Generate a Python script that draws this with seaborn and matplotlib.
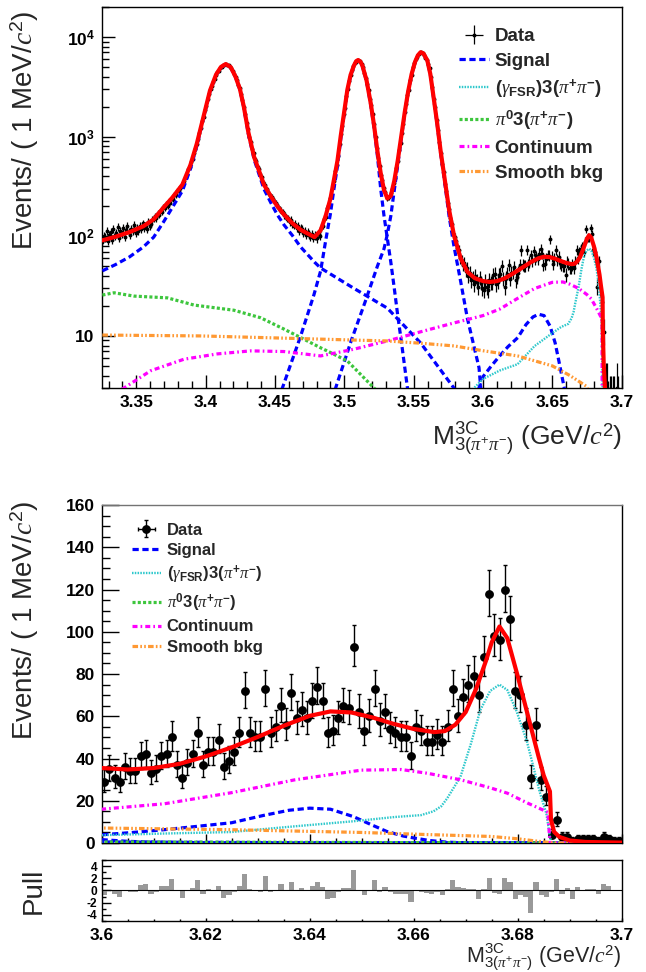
import numpy as np
import matplotlib
matplotlib.use("Agg")
import matplotlib.pyplot as plt
import seaborn as sns
from matplotlib.lines import Line2D
from matplotlib.ticker import MultipleLocator, LogLocator, NullFormatter

# ---------------- binned data: 1 MeV bins, 3.325 - 3.700 GeV ----------------
mass_lo, mass_hi, bin_w = 3.325, 3.700, 0.001

counts_low = [
    88, 100, 97, 112, 90, 103, 110, 92, 118, 102,
    107, 124, 96, 113, 105, 121, 99, 115, 128, 110,
    103, 119, 112, 131, 108, 120, 114, 127, 118, 135,
    121, 128, 117, 140, 126, 133, 146, 150, 160, 151,
    170, 165, 184, 176, 198, 192, 210, 203, 224, 218,
    241, 236, 262, 259, 285, 286, 310, 309, 345, 362,
    398, 420, 470, 495, 560, 600, 690, 745, 850, 940,
    1100, 1220, 1420, 1590, 1840, 2050, 2380, 2660, 3020, 3220,
    3530, 3750, 4120, 4420, 4580, 4870, 5020, 5180, 5230, 5380,
    5220, 5180, 5020, 4860, 4520, 4300, 3960, 3680, 3300, 3070,
    2650, 2350, 1980, 1690, 1370, 1180, 995, 890, 760, 680,
    600, 570, 500, 475, 418, 395, 348, 330, 298, 295,
    266, 258, 247, 236, 224, 215, 204, 198, 185, 181,
    175, 163, 162, 150, 152, 139, 146, 133, 128, 134,
    122, 127, 113, 121, 117, 108, 114, 103, 110, 104,
    99, 106, 96, 102, 101, 95, 106, 101, 121, 128,
    150, 156, 192, 203, 240, 255, 322, 362, 452, 524,
    640, 838, 1062, 1285, 1670, 1930, 2540, 3010, 3640, 4120,
    4690, 5060, 5480, 5660, 5890, 5770, 5690, 5310, 5050, 4350,
    3900, 3370, 2930, 2410, 2080, 1670, 1350, 985, 775, 610,
    508, 412, 366, 305, 276, 241, 246, 248, 270, 296,
    346, 384, 488, 566, 732, 860, 1085, 1330, 1760, 2120,
    2630, 2970, 3690, 4200, 4950, 5500, 5960, 6310, 6760, 6920,
    7060, 6870, 6590, 6150, 5890, 5350, 4850, 3960, 3150, 2370,
    1980, 1480, 1170, 885, 690, 532, 438, 335, 286, 216,
    190, 151, 134, 106, 98, 89, 76, 72, 60, 57,
    51, 54, 45, 48, 40, 43, 36, 38, 33, 40,
    35, 31, 38, 34, 30,
]
counts_high = [
    29, 35, 31, 29, 36, 34, 34, 41, 42, 33,
    35, 41, 42, 50, 37, 31, 38, 42, 52, 37,
    43, 43, 49, 36, 39, 43, 52, 72, 52, 50,
    50, 73, 52, 55, 65, 56, 71, 59, 63, 59,
    67, 74, 67, 52, 53, 59, 65, 64, 93, 62,
    53, 60, 73, 58, 62, 54, 52, 50, 50, 41,
    55, 53, 48, 48, 51, 48, 55, 73, 60, 69,
    75, 79, 70, 88, 118, 98, 96, 120, 106, 72,
    70, 56, 31, 56, 30, 22, 4, 11, 3, 3,
    1, 2, 2, 2, 2, 1, 3, 2, 1, 1,
]
# fit pulls for the 3.600 - 3.700 GeV bins
pull = [
    -0.8, 0.0, -0.65, -1.0, 0.1, -0.2, -0.2, 0.85, 1.0, -0.5,
    -0.2, 0.7, 0.8, 1.85, -0.1, -1.2, -0.1, 0.4, 1.7, -0.5,
    0.2, 0.1, 0.7, -1.2, -0.8, -0.3, 0.75, 2.75, 0.3, 0.0,
    -0.3, 2.3, -0.3, 0.0, 1.0, 0.0, 1.35, 0.05, 0.4, 0.0,
    0.7, 1.35, 0.5, -1.35, -1.2, -0.3, 0.4, 0.4, 3.3, -0.1,
    -0.8, 0.0, 1.7, -0.2, 0.5, -0.3, -0.5, -0.65, -0.6, -1.85,
    0.1, -0.2, -0.4, -0.5, -0.2, -0.7, 0.3, 1.7, 0.5, 0.4,
    0.3, 0.2, -1.35, 0.2, 2.0, -0.4, -0.6, 2.0, 1.35, -1.45,
    -0.8, -1.0, -3.7, 1.35, -0.8, -1.0, -0.3, 1.8, -0.5, 0.4,
    -1.45, 0.5, -0.1, 0.2, 0.3, -0.5, 1.1, 0.7, 0.0, 0.0,
]

# ---------------- fit curves (mass in GeV, events per MeV) ----------------
total_m = [3.3255, 3.335, 3.345, 3.355, 3.3625, 3.3697, 3.376, 3.3832, 3.389, 3.3936,
           3.398, 3.4031, 3.4075, 3.411, 3.4144, 3.418, 3.4215, 3.4247, 3.4275,
           3.4308, 3.435, 3.442, 3.4475, 3.4517, 3.4565, 3.4625, 3.4685, 3.4785,
           3.4829, 3.4865, 3.490, 3.4925, 3.495, 3.4974, 3.500, 3.5022, 3.5045,
           3.5069, 3.5085, 3.5099, 3.5115, 3.513, 3.516, 3.519, 3.5215, 3.5238,
           3.5262, 3.5286, 3.531, 3.5335, 3.536, 3.5385, 3.541, 3.5435, 3.546,
           3.5485, 3.551, 3.553, 3.555, 3.557, 3.5598, 3.562, 3.5646, 3.567,
           3.5694, 3.572, 3.5755, 3.579, 3.5839, 3.5887, 3.594,
           3.600, 3.605, 3.610, 3.615, 3.620, 3.625, 3.630, 3.635, 3.640, 3.644,
           3.648, 3.652, 3.656, 3.660, 3.664, 3.666, 3.668, 3.670, 3.672, 3.674,
           3.675, 3.6765, 3.678, 3.680, 3.682, 3.684, 3.685, 3.6862, 3.6864,
           3.687, 3.688, 3.690, 3.693, 3.700]
total_v = [91, 99, 110, 126, 148, 195, 245, 330, 520, 850,
           1500, 2900, 4200, 5000, 5350, 5000, 4000, 3000, 2000,
           1100, 620, 330, 245, 200, 165, 135, 116, 98,
           115, 160, 240, 370, 570, 1020, 1820, 2970, 4170,
           5170, 5720, 5870, 5670, 5170, 3670, 2170, 1270, 720,
           430, 290, 240, 255, 360, 575, 1000, 1740, 2840,
           4240, 5640, 6540, 7040, 6840, 5840, 4240, 2340, 1340,
           720, 405, 185, 103, 60, 44, 38,
           35.5, 34.8, 35.5, 37.5, 41.0, 45.3, 50.2, 55.5, 60.2, 62.3,
           61.8, 59.5, 56.5, 54.0, 52.5, 53.0, 56.0, 62.0, 73.0, 87.0,
           95.0, 102.5, 97.0, 79.0, 60.0, 41.0, 32.0, 24.4, 11.0,
           5.3, 2.9, 1.2, 0.5, 0.2]

chic0_m = [3.3255, 3.335, 3.345, 3.355, 3.3625, 3.3697, 3.376, 3.3832, 3.389, 3.3936,
           3.398, 3.4031, 3.4075, 3.411, 3.4144, 3.418, 3.4215, 3.4247, 3.4275,
           3.4308, 3.435, 3.442, 3.4475, 3.4517, 3.4565, 3.4625, 3.4685, 3.4785,
           3.4829, 3.5069, 3.531, 3.555, 3.579, 3.590, 3.600, 3.650, 3.700]
chic0_v = [45, 52, 62, 78, 98, 140, 195, 285, 475, 805,
           1455, 2855, 4155, 4955, 5305, 4955, 3955, 2955, 1955,
           1060, 585, 298, 210, 164, 130, 102, 78, 55,
           48, 30, 19, 8.5, 3.0, 1.5, 0.5, 0.05, 0.01]

chic1_m = [3.440, 3.4553, 3.4685, 3.4781, 3.4829, 3.4865, 3.490, 3.4925, 3.495,
           3.4974, 3.500, 3.5022, 3.5045, 3.5069, 3.5085, 3.5099, 3.5115, 3.513,
           3.516, 3.519, 3.5215, 3.5238, 3.5262, 3.5286, 3.531, 3.5335, 3.536,
           3.5385, 3.541, 3.5455, 3.560, 3.600, 3.700]
chic1_v = [0.8, 3.0, 10, 26, 45, 90, 170, 300, 500,
           950, 1750, 2900, 4100, 5100, 5650, 5800, 5600, 5100,
           3600, 2100, 1200, 650, 300, 160, 95, 55, 30,
           16, 9, 3.0, 0.5, 0.05, 0.01]

chic2_m = [3.480, 3.4937, 3.505, 3.515, 3.5238, 3.5286, 3.531, 3.5335, 3.536,
           3.5385, 3.541, 3.5435, 3.546, 3.5485, 3.551, 3.553, 3.555, 3.557,
           3.5598, 3.562, 3.5646, 3.567, 3.5694, 3.572, 3.5755, 3.579, 3.5839,
           3.5887, 3.5971, 3.600, 3.605, 3.610, 3.620, 3.650, 3.700]
chic2_v = [1.0, 3.0, 9, 22, 50, 75, 105, 160, 290,
           520, 950, 1700, 2800, 4200, 5600, 6500, 7000, 6800,
           5800, 4200, 2300, 1300, 680, 380, 160, 80, 35,
           15, 4.8, 1.6, 0.8, 0.4, 0.15, 0.03, 0.01]

etac_m = [3.585, 3.595, 3.600, 3.606, 3.612, 3.618, 3.625, 3.631, 3.636, 3.640,
          3.644, 3.6484, 3.652, 3.6548, 3.658, 3.660, 3.663, 3.6664, 3.670, 3.700]
etac_v = [1.0, 2.5, 3.9, 5.0, 6.3, 7.8, 9.6, 13.0, 15.5, 16.5,
          16.0, 12.5, 8.5, 5.5, 3.3, 2.4, 1.2, 0.4, 0.1, 0.01]

fsr_m = [3.570, 3.5935, 3.600, 3.6121, 3.6249, 3.6371, 3.6484, 3.6563, 3.6614,
         3.6638, 3.6653, 3.6664, 3.669, 3.671, 3.6728, 3.6747, 3.6765, 3.678,
         3.6797, 3.6817, 3.683, 3.6842, 3.6855, 3.6862, 3.6865, 3.700]
fsr_v = [1.0, 3.0, 3.7, 4.5, 5.2, 7.9, 10.3, 12.3, 13.2,
         15.0, 17.4, 21.0, 31.4, 47.0, 62.9, 72.0, 75.0, 72.4,
         62.9, 48.7, 36.2, 24.4, 14.0, 3.0, 0.01, 0.01]

pi0_m = [3.3255, 3.3339, 3.3483, 3.3724, 3.3916, 3.4204, 3.4397, 3.4565, 3.4733,
         3.4829, 3.4901, 3.5022, 3.5214, 3.540, 3.560, 3.600, 3.650, 3.686, 3.700]
pi0_v = [25.7, 27.1, 25.1, 24.1, 20.4, 18.1, 15.2, 11.7, 8.9,
         7.6, 6.8, 5.6, 3.0, 1.8, 1.1, 0.5, 0.25, 0.05, 0.01]

cont_m = [3.3255, 3.341, 3.3603, 3.3844, 3.4084, 3.4325, 3.4565, 3.4829, 3.5069,
          3.531, 3.555, 3.579, 3.600, 3.6121, 3.6249, 3.6371, 3.6499, 3.6576,
          3.6627, 3.6691, 3.6749, 3.678, 3.6819, 3.6848, 3.6858, 3.6862, 3.700]
cont_v = [2.0, 3.0, 4.47, 5.84, 6.6, 7.08, 6.97, 6.3, 7.36,
          8.9, 11.0, 13.5, 16.0, 18.6, 23.8, 29.9, 34.5, 34.8,
          33.0, 29.9, 26.0, 23.6, 18.9, 15.7, 14.5, 0.01, 0.01]

smooth_m = [3.3255, 3.3964, 3.4685, 3.531, 3.555, 3.579, 3.600, 3.6249, 3.650,
            3.6627, 3.6749, 3.680, 3.684, 3.686, 3.687, 3.700]
smooth_v = [10.2, 10.0, 9.4, 8.9, 8.45, 7.94, 7.1, 6.3, 5.0,
            4.0, 3.1, 2.0, 0.8, 0.3, 0.01, 0.01]

# ---------------- styling ----------------
sns.set_theme(style="ticks")
plt.rcParams.update({
    "font.family": ["Liberation Sans", "DejaVu Sans"],
    "mathtext.fontset": "custom",
    "mathtext.rm": "Liberation Sans",
    "mathtext.sf": "Liberation Sans",
    "mathtext.it": "Liberation Serif:italic",
    "mathtext.bf": "Liberation Sans:bold",
    "lines.scale_dashes": False,
    "axes.linewidth": 1.0,
    "axes.edgecolor": "black",
    "xtick.direction": "in",
    "ytick.direction": "in",
    "xtick.color": "black",
    "ytick.color": "black",
})

C_SIG, C_FSR, C_PI0 = "#0000ff", "#2ec8cc", "#3dc63d"
C_CONT, C_SMOOTH, C_TOT = "#ff00ff", "#ff9933", "#ff0000"
STY = {
    "sig": dict(color=C_SIG, lw=2.3, dashes=(4.5, 2.6)),
    "fsr": dict(color=C_FSR, lw=1.7, dashes=(1.1, 0.9)),
    "pi0": dict(color=C_PI0, lw=2.3, dashes=(2.2, 1.6)),
    "cont": dict(color=C_CONT, lw=2.3, dashes=(3.6, 2.2, 1.2, 2.2)),
    "smooth": dict(color=C_SMOOTH, lw=2.3, dashes=(4.0, 1.6, 1.2, 1.6, 1.2, 1.6)),
    "tot": dict(color=C_TOT, lw=3.0, dashes=None),
}

centers_all = mass_lo + bin_w / 2 + bin_w * np.arange(len(counts_low) + len(counts_high))
counts_all = np.array(counts_low + counts_high, dtype=float)


def poisson_err(n):
    n = np.asarray(n, dtype=float)
    return np.sqrt(n + 0.25) - 0.5, np.sqrt(n + 0.25) + 0.5


def draw_curve(ax, m, v, key, z=3):
    st = STY[key]
    sns.lineplot(x=m, y=v, ax=ax, color=st["color"], lw=st["lw"],
                 estimator=None, sort=False, zorder=z)
    ln = ax.lines[-1]
    if st["dashes"]:
        ln.set_dashes(st["dashes"])
    ln.set_dash_capstyle("butt")
    return ln


def legend_handle(key):
    st = STY[key]
    h = Line2D([], [], color=st["color"], lw=st["lw"])
    if st["dashes"]:
        h.set_dashes(st["dashes"])
    return h


def style_ticks(ax, size_major, size_minor, xsize_major=None, xsize_minor=None):
    ax.tick_params(axis="y", which="major", length=size_major, width=1, labelsize=12.5, pad=5)
    ax.tick_params(axis="y", which="minor", length=size_minor, width=1)
    ax.tick_params(axis="x", which="major", length=xsize_major or size_major, width=1,
                   labelsize=12.5, pad=5)
    ax.tick_params(axis="x", which="minor", length=xsize_minor or size_minor, width=1)
    ax.tick_params(top=False, right=False, which="both")


labels = ["Data", "Signal", r"($\gamma_{\mathbf{FSR}}$)3($\pi^{\mathbf{+}}\pi^{\mathbf{-}}$)",
          r"$\pi^{\mathbf{0}}$3($\pi^{\mathbf{+}}\pi^{\mathbf{-}}$)", "Continuum", "Smooth bkg"]
ylab = r"Events/ ( 1 MeV/$c^{2}$)"
xlab = r"M$^{\mathrm{3C}}_{\mathrm{3(}\pi^{+}\pi^{-}\mathrm{)}}$ (GeV/$c^{2}$)"

fig = plt.figure(figsize=(6.46, 9.72), dpi=100)
ax1 = fig.add_axes([0.1574, 0.6008, 0.805, 0.392])
ax2 = fig.add_axes([0.1574, 0.1327, 0.805, 0.3477])
ax3 = fig.add_axes([0.1574, 0.0525, 0.805, 0.0628])

# ---------------- full range, log scale ----------------
lo, hi = poisson_err(counts_all)
data1 = ax1.errorbar(centers_all, counts_all, yerr=[lo, hi], xerr=bin_w / 2,
                     fmt="o", ms=1.8, color="black", ecolor="black",
                     elinewidth=0.9, capsize=0, zorder=2)
for m, v, k in [(chic0_m, chic0_v, "sig"), (chic1_m, chic1_v, "sig"),
                (chic2_m, chic2_v, "sig"), (etac_m, etac_v, "sig"),
                (fsr_m, fsr_v, "fsr"), (pi0_m, pi0_v, "pi0"),
                (cont_m, cont_v, "cont"), (smooth_m, smooth_v, "smooth")]:
    draw_curve(ax1, m, v, k)
draw_curve(ax1, total_m, total_v, "tot", z=4)

ax1.set_yscale("log")
ax1.set_xlim(mass_lo, mass_hi)
ax1.set_ylim(3, 2.0e4)
ax1.set_xticks(np.arange(3.35, 3.701, 0.05),
               ["3.35", "3.4", "3.45", "3.5", "3.55", "3.6", "3.65", "3.7"],
               fontweight="bold")
ax1.xaxis.set_minor_locator(MultipleLocator(0.01))
ax1.set_yticks([10, 100, 1000, 10000],
               ["10", r"$\mathbf{10^{2}}$", r"$\mathbf{10^{3}}$", r"$\mathbf{10^{4}}$"],
               fontweight="bold")
ax1.yaxis.set_minor_locator(LogLocator(base=10, subs=np.arange(2, 10)))
ax1.yaxis.set_minor_formatter(NullFormatter())
style_ticks(ax1, 9.5, 4.8)
ax1.set_ylabel(ylab, fontsize=20, loc="top")
ax1.yaxis.set_label_coords(-0.117, 0.992)
ax1.set_xlabel(xlab, fontsize=19, loc="right")
ax1.xaxis.set_label_coords(1.0, -0.083)

h1 = [data1] + [legend_handle(k) for k in ["sig", "fsr", "pi0", "cont", "smooth"]]
ax1.legend(h1, labels, loc="upper left", bbox_to_anchor=(0.688, 0.945), frameon=False,
           prop={"weight": "bold", "size": 13.5}, handlelength=1.55, handletextpad=0.33,
           labelspacing=0.41, borderpad=0.0, borderaxespad=0.0)

# ---------------- zoomed range, linear scale ----------------
sel = centers_all > 3.6
c2, n2 = centers_all[sel], counts_all[sel]
lo2, hi2 = poisson_err(n2)
data2 = ax2.errorbar(c2, n2, yerr=[lo2, hi2], xerr=bin_w / 2, fmt="o", ms=5.3,
                     color="black", ecolor="black", elinewidth=1.0, capsize=1.6,
                     capthick=1.0, zorder=2)
for m, v, k in [(chic0_m, chic0_v, "sig"), (chic1_m, chic1_v, "sig"),
                (chic2_m, chic2_v, "sig"), (etac_m, etac_v, "sig"),
                (fsr_m, fsr_v, "fsr"), (pi0_m, pi0_v, "pi0"),
                (cont_m, cont_v, "cont"), (smooth_m, smooth_v, "smooth")]:
    draw_curve(ax2, m, v, k)
draw_curve(ax2, total_m, total_v, "tot", z=4)

ax2.set_xlim(3.6, 3.7)
ax2.set_ylim(0, 160)
ax2.set_xticks(np.arange(3.6, 3.7001, 0.02))
ax2.tick_params(axis="x", labelbottom=False)
ax2.xaxis.set_minor_locator(MultipleLocator(0.005))
ax2.set_yticks(np.arange(0, 161, 20), [str(v) for v in range(0, 161, 20)], fontweight="bold")
ax2.yaxis.set_minor_locator(MultipleLocator(5))
style_ticks(ax2, 12, 6, 6.5, 3.5)
ax2.spines["top"].set_color("0.45")
ax2.set_ylabel(ylab, fontsize=20, loc="top")
ax2.yaxis.set_label_coords(-0.117, 1.015)
ax2.set_xlabel("")

h2 = [data2] + [legend_handle(k) for k in ["sig", "fsr", "pi0", "cont", "smooth"]]
ax2.legend(h2, labels, loc="upper left", bbox_to_anchor=(0.058, 0.948), frameon=False,
           prop={"weight": "bold", "size": 12}, handlelength=1.75, handletextpad=0.35,
           labelspacing=0.33, borderpad=0.0, borderaxespad=0.0)

# ---------------- pull ----------------
ax3.bar(c2, pull, width=bin_w, color="#999999", edgecolor="none", zorder=2)
ax3.axhline(0, color="black", lw=0.8, zorder=3)
ax3.set_xlim(3.6, 3.7)
ax3.set_ylim(-5, 5)
ax3.set_xticks(np.arange(3.6, 3.7001, 0.02),
               ["3.6", "3.62", "3.64", "3.66", "3.68", "3.7"], fontweight="bold")
ax3.xaxis.set_minor_locator(MultipleLocator(0.005))
ax3.set_yticks([-4, -2, 0, 2, 4], ["-4", "-2", "0", "2", "4"], fontweight="bold")
ax3.yaxis.set_minor_locator(MultipleLocator(1))
style_ticks(ax3, 6.5, 3.0, 2.5, 1.5)
ax3.tick_params(axis="y", labelsize=8.6, pad=3)
ax3.set_ylabel("Pull", fontsize=20)
ax3.yaxis.set_label_coords(-0.105, 0.5)
ax3.set_xlabel(xlab, fontsize=15.5, loc="right")
ax3.xaxis.set_label_coords(1.0, -0.33)

fig.savefig("out.png", dpi=100)
